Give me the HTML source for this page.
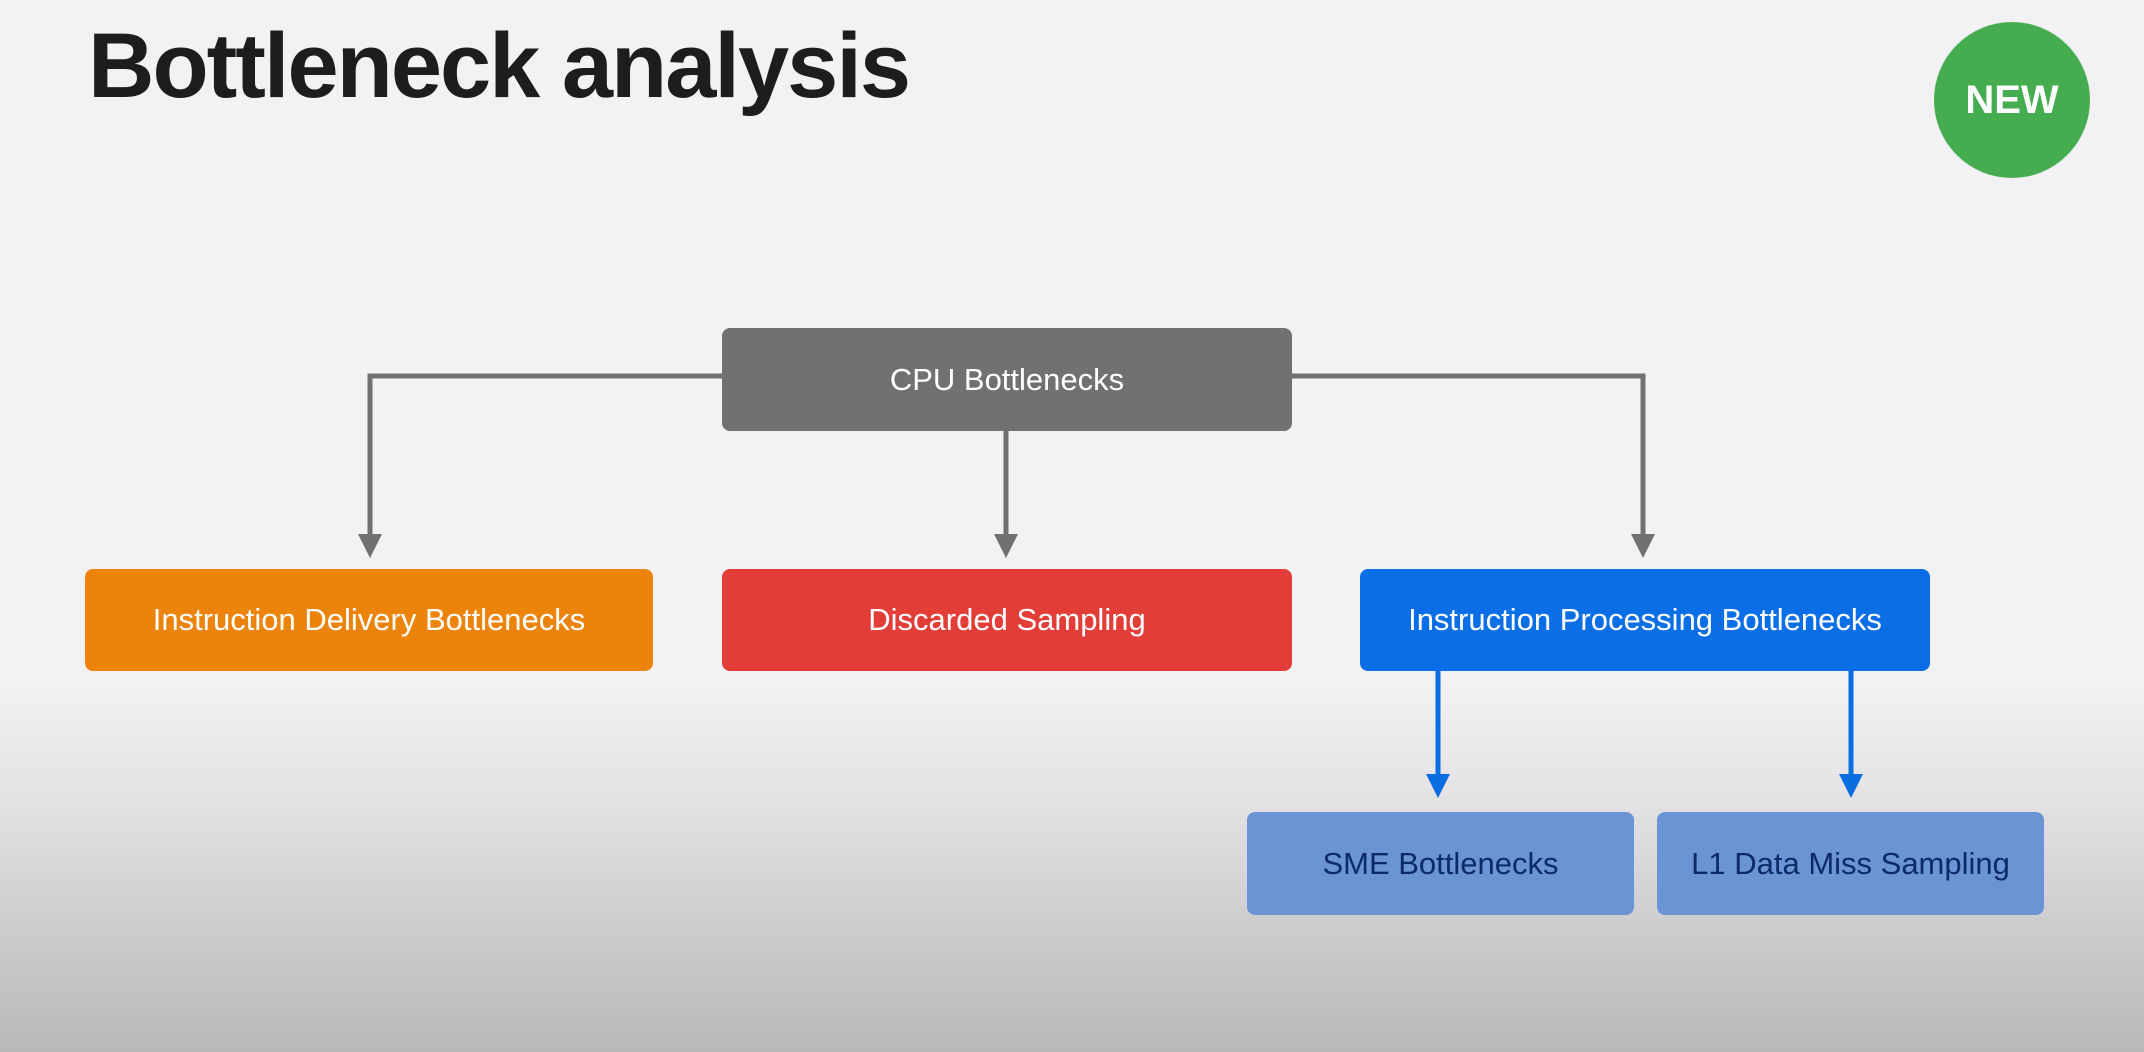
<!DOCTYPE html>
<html><head><meta charset="utf-8"><style>
html,body{margin:0;padding:0}
body{width:2144px;height:1052px;position:relative;overflow:hidden;font-family:"Liberation Sans",sans-serif;
background:linear-gradient(to bottom,#f2f2f4 0px,#f2f2f4 680px,#e3e3e5 800px,#c9c9cb 950px,#b8b8ba 1052px);}
.t{position:absolute;left:88px;top:14px;font-size:92px;font-weight:bold;color:#1d1d1f;letter-spacing:-2px}
.new{position:absolute;left:1934px;top:22px;width:156px;height:156px;border-radius:50%;background:#45ad4f;color:#fff;font-weight:bold;font-size:40px;display:flex;align-items:center;justify-content:center}
.b{position:absolute;display:flex;align-items:center;justify-content:center;color:#fff;font-size:31px;border-radius:8px}
svg{position:absolute;left:0;top:0}
</style></head><body>
<div class="t">Bottleneck analysis</div>
<div class="new">NEW</div>
<svg width="2144" height="1052">
<g stroke="#707173" stroke-width="5" fill="none">
<polyline points="722,376 370,376 370,538"/>
<polyline points="1292,376 1643,376 1643,538"/>
<line x1="1006" y1="431" x2="1006" y2="538"/>
</g>
<g fill="#707173">
<polygon points="358,534 382,534 370,558"/>
<polygon points="994,534 1018,534 1006,558"/>
<polygon points="1631,534 1655,534 1643,558"/>
</g>
<g stroke="#0a6ee0" stroke-width="5"><line x1="1438" y1="671" x2="1438" y2="778"/><line x1="1851" y1="671" x2="1851" y2="778"/></g>
<g fill="#0a6ee0"><polygon points="1426,774 1450,774 1438,798"/><polygon points="1839,774 1863,774 1851,798"/></g>
</svg>
<div class="b" style="left:722px;top:328px;width:570px;height:103px;background:#707173">CPU Bottlenecks</div>
<div class="b" style="left:85px;top:569px;width:568px;height:102px;background:#ec830a">Instruction Delivery Bottlenecks</div>
<div class="b" style="left:722px;top:569px;width:570px;height:102px;background:#e23d37">Discarded Sampling</div>
<div class="b" style="left:1360px;top:569px;width:570px;height:102px;background:#0a6ee6">Instruction Processing Bottlenecks</div>
<div class="b" style="left:1247px;top:812px;width:387px;height:103px;background:#6a94d4;color:#0c2a66">SME Bottlenecks</div>
<div class="b" style="left:1657px;top:812px;width:387px;height:103px;background:#6a94d4;color:#0c2a66">L1 Data Miss Sampling</div>
</body></html>
